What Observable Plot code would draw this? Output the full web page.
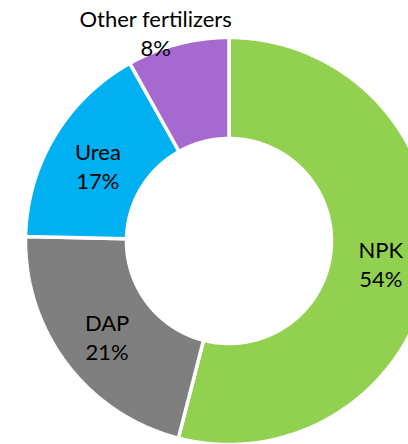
<!DOCTYPE html>
<html><head><meta charset="utf-8">
<script src="https://cdn.jsdelivr.net/npm/d3@7"></script>
<script src="https://cdn.jsdelivr.net/npm/@observablehq/plot@0.6"></script>
<style>html,body{margin:0;padding:0;background:#fff} svg{display:block}</style>
</head><body><div id="chart"></div>
<script>
// Data
const categories = ["NPK", "DAP", "Urea", "Other fertilizers"];
const shares = [54.0, 21.35, 16.55, 8.1];
const colors = ["#92d050", "#7f7f7f", "#00b0f0", "#a569cf"];

// Geometry (plot units = pixels around the donut centre)
const outerR = 203.5, innerR = 102.5;
const rows = categories.map((name, i) => ({name, share: shares[i]}));
const total = d3.sum(shares);
const arcs = d3.pie().sort(null).value(d => d.share)(rows);
const toXY = (a, r) => [r * Math.sin(a), -r * Math.cos(a)];

const ring = [];
for (const s of arcs) {
  const n = Math.max(2, Math.ceil((s.endAngle - s.startAngle) / (Math.PI / 360)));
  const pts = [];
  for (let k = 0; k <= n; k++) pts.push(toXY(s.startAngle + (s.endAngle - s.startAngle) * k / n, outerR));
  for (let k = n; k >= 0; k--) pts.push(toXY(s.startAngle + (s.endAngle - s.startAngle) * k / n, innerR));
  pts.push(pts[0]);
  for (const [x, y] of pts) ring.push({name: s.data.name, x, y});
}

const fmt = d3.format(".0%");
const labels = arcs.map(s => {
  const mid = (s.startAngle + s.endAngle) / 2;
  const small = s.data.share / total < 0.1;
  const [x, y] = small
    ? toXY(mid - 4.5 * Math.PI / 180, outerR + 21)
    : toXY(mid, (outerR + innerR) / 2);
  return {x, y, text: `${s.data.name}\n${fmt(s.data.share / total)}`};
});

const chart = Plot.plot({
  width: 408,
  height: 444,
  margin: 0,
  style: {background: "#fff"},
  x: {domain: [-228.5, 179.5], range: [0, 408], axis: null},
  y: {domain: [-240.5, 203.5], range: [0, 444], axis: null},
  color: {domain: categories, range: colors},
  marks: [
    Plot.line(ring, {x: "x", y: "y", z: "name", fill: "name", stroke: "white", strokeWidth: 3.5, strokeLinejoin: "miter", curve: "linear"}),
    Plot.text(labels, {x: "x", y: "y", text: "text", dy: 3, fontSize: 22, lineHeight: 1.32, fill: "#000", fontFamily: "Lato", textAnchor: "middle"})
  ]
});
document.getElementById("chart").appendChild(chart);
</script>
</body></html>
